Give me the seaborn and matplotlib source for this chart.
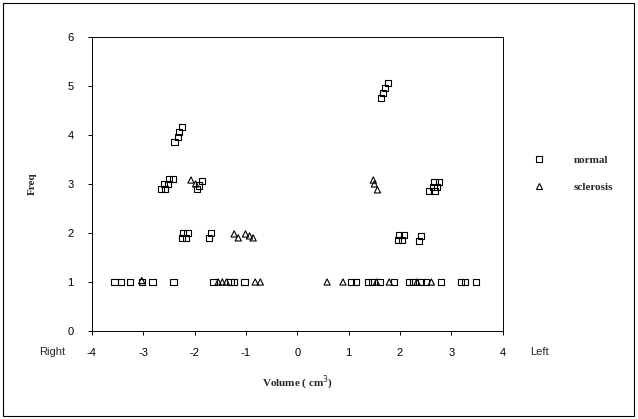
import matplotlib
matplotlib.use("Agg")
import matplotlib.pyplot as plt
import seaborn as sns
import pandas as pd
from matplotlib.lines import Line2D
from matplotlib.patches import Rectangle

# values (stacked duplicates drawn with a small offset)
normal_vol = [-3.56, -3.44, -3.25, -3.03, -2.82, -2.41,
              -1.63, -1.30, -1.23, -1.03,
              1.05, 1.15, 1.38, 1.46, 1.61, 1.89,
              2.18, 2.26, 2.41, 2.51, 2.80, 3.19, 3.27, 3.48,
              -2.22, -2.14, -2.25, -2.16, -1.68, -1.72,
              1.98, 2.08, 1.96, 2.04, 2.41, 2.37,
              -2.66, -2.58, -2.60, -2.52, -2.50, -2.42,
              -1.85, -1.92, -1.96,
              2.67, 2.76, 2.65, 2.72, 2.57, 2.67,
              -2.39, -2.33, -2.30, -2.24,
              1.63, 1.67, 1.71, 1.77]
normal_freq = [1, 1, 1, 1, 1, 1,
               1, 1, 1, 1,
               1, 1, 1, 1, 1, 1,
               1, 1, 1, 1, 1, 1, 1, 1,
               2.0, 2.0, 1.9, 1.9, 2.0, 1.9,
               1.96, 1.96, 1.86, 1.86, 1.94, 1.84,
               2.9, 2.9, 3.0, 3.0, 3.1, 3.1,
               3.06, 2.97, 2.9,
               3.04, 3.04, 2.94, 2.94, 2.86, 2.86,
               3.86, 3.96, 4.06, 4.16,
               4.76, 4.86, 4.96, 5.06]

scler_vol = [-3.03, -1.54, -1.46, -1.38, -0.82, -0.72,
             0.58, 0.89, 1.54, 1.79, 2.33, 2.61,
             -1.23, -1.15, -1.01, -0.93, -0.86,
             -2.07, -1.98,
             1.48, 1.50, 1.56]
scler_freq = [1.03, 1, 1, 1, 1, 1,
              1, 1, 1, 1, 1, 1,
              1.98, 1.9, 1.98, 1.94, 1.9,
              3.08, 3.0,
              3.08, 3.0, 2.88]

x_ticks = [-4, -3, -2, -1, 0, 1, 2, 3, 4]
y_ticks = [0, 1, 2, 3, 4, 5, 6]

df = pd.concat([
    pd.DataFrame({'vol': normal_vol, 'freq': normal_freq, 'group': 'normal'}),
    pd.DataFrame({'vol': scler_vol, 'freq': scler_freq, 'group': 'sclerosis'}),
])

sns.set_theme(style='white')
plt.rcParams['font.family'] = ['Liberation Sans', 'DejaVu Sans']
plt.rcParams['axes.unicode_minus'] = False

fig = plt.figure(figsize=(6.38, 4.19), dpi=100)
ax = fig.add_axes([0.144, 0.21, 0.644, 0.702])

markers = {'normal': 's', 'sclerosis': '^'}
for name, sub in df.groupby('group'):
    sns.scatterplot(ax=ax, data=sub, x='vol', y='freq', marker=markers[name],
                    s=20 if name == 'normal' else 20, facecolor='none',
                    edgecolor='black', linewidth=0.8, zorder=3)

ax.set_xlim(-4, 4)
ax.set_ylim(0, 6)
ax.set_xticks(x_ticks)
ax.set_yticks(y_ticks)
ax.tick_params(axis='both', direction='out', length=3, width=0.7, color='black',
               labelsize=8, labelcolor='black', bottom=True, left=True)
ax.tick_params(axis='x', pad=9)
ax.tick_params(axis='y', pad=10)
for sp in ax.spines.values():
    sp.set_visible(True)
    sp.set_color('black')
    sp.set_linewidth(0.7)

serif_bold = dict(family=['Liberation Serif', 'DejaVu Serif'], weight='bold', size=8)
ax.set_xlabel('Volume ( cm$^3$)', fontdict=serif_bold, labelpad=12)
ax.set_ylabel('Freq', fontdict=serif_bold, labelpad=22)

ax.text(-0.097, -0.071, 'Right', transform=ax.transAxes, fontsize=8,
        ha='center', va='center')
ax.text(1.09, -0.071, 'Left', transform=ax.transAxes, fontsize=8,
        ha='center', va='center')

handles = [Line2D([], [], ls='none', marker='s', ms=4.2, mfc='none', mec='black', mew=0.8),
           Line2D([], [], ls='none', marker='^', ms=4.2, mfc='none', mec='black', mew=0.8)]
ax.legend(handles, ['normal', 'sclerosis'], loc='center left',
          bbox_to_anchor=(1.05, 0.535), frameon=False, prop=serif_bold,
          handletextpad=2.6, labelspacing=1.5, handlelength=1.0)

fig.patches.append(Rectangle((0.005, 0.008), 0.988, 0.984, transform=fig.transFigure,
                             fill=False, edgecolor='black', linewidth=0.8))

fig.savefig('out.png', dpi=100)
